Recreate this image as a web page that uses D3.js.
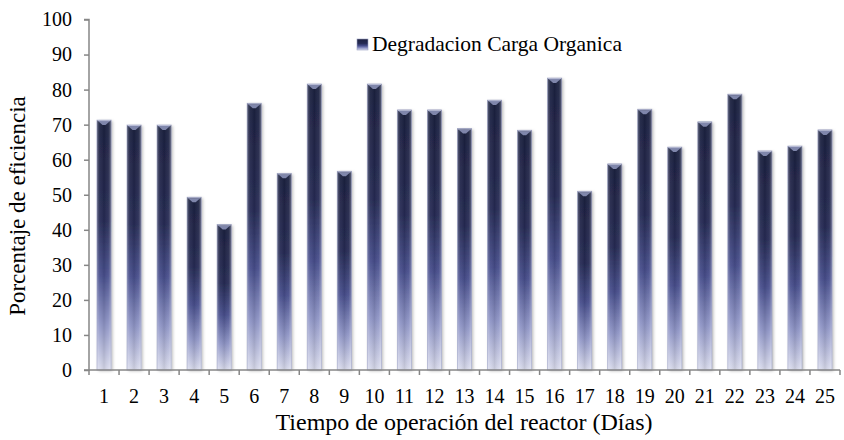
<!DOCTYPE html>
<html>
<head>
<meta charset="utf-8">
<script src="https://cdn.jsdelivr.net/npm/d3@7"></script>
<style>
  html, body { margin: 0; padding: 0; background: #fff; }
  svg { display: block; font-family: "Liberation Serif", "Times New Roman", serif; }
</style>
</head>
<body>
<svg id="chart" width="844" height="440"></svg>
<script>
// Days of reactor operation and organic load degradation efficiency (%)
const days = ["1","2","3","4","5","6","7","8","9","10","11","12","13","14","15","16","17","18","19","20","21","22","23","24","25"];
const efficiency = [71.3, 69.9, 69.9, 49.3, 41.5, 76.1, 56.1, 81.6, 56.7, 81.6, 74.2, 74.2, 68.9, 77.0, 68.4, 83.3, 51.0, 58.8, 74.4, 63.6, 70.8, 78.7, 62.5, 63.9, 68.5];
const yTicks = [0, 10, 20, 30, 40, 50, 60, 70, 80, 90, 100];
const seriesName = "Degradacion Carga Organica";

const svg = d3.select("#chart");
const plotLeft = 89, plotRight = 840, plotTop = 19.5, plotBottom = 370;
const serif = "'Liberation Serif', 'Times New Roman', serif";

const x = d3.scaleBand().domain(days).range([plotLeft, plotRight]).paddingInner(0.53).paddingOuter(0.265);
const y = d3.scaleLinear().domain([0, 100]).range([plotBottom, plotTop]);

const defs = svg.append("defs");

// vertical body shading: deep navy at the top fading to pale lavender at the base
const vg = defs.append("linearGradient").attr("id", "barV")
  .attr("x1", 0).attr("y1", 0).attr("x2", 0).attr("y2", 1);
[[0, "#1d2140"], [0.4, "#262b54"], [0.62, "#474e8c"], [0.82, "#8f95c6"], [1, "#d9dbec"]]
  .forEach(([o, c]) => vg.append("stop").attr("offset", o).attr("stop-color", c));

// horizontal sheen: lighter edges, darker centre
const hg = defs.append("linearGradient").attr("id", "barH")
  .attr("x1", 0).attr("y1", 0).attr("x2", 1).attr("y2", 0);
[[0, "#ffffff", 0.28], [0.2, "#ffffff", 0.05], [0.5, "#000000", 0.08], [0.8, "#ffffff", 0.05], [1, "#ffffff", 0.3]]
  .forEach(([o, c, a]) => hg.append("stop").attr("offset", o).attr("stop-color", c).attr("stop-opacity", a));

const shadow = defs.append("filter").attr("id", "shadow")
  .attr("x", "-50%").attr("y", "-10%").attr("width", "200%").attr("height", "120%");
shadow.append("feDropShadow").attr("dx", 1.5).attr("dy", 1).attr("stdDeviation", 1.6)
  .attr("flood-color", "#000").attr("flood-opacity", 0.28);

// bars
const bars = svg.append("g").selectAll("g.bar")
  .data(days.map((d, i) => ({ day: d, value: efficiency[i] })))
  .join("g").attr("class", "bar");

bars.append("rect")
  .attr("x", d => x(d.day)).attr("y", d => y(d.value))
  .attr("width", x.bandwidth()).attr("height", d => y(0) - y(d.value))
  .attr("fill", "url(#barV)").attr("filter", "url(#shadow)");

bars.append("rect")
  .attr("x", d => x(d.day)).attr("y", d => y(d.value))
  .attr("width", x.bandwidth()).attr("height", d => y(0) - y(d.value))
  .attr("fill", "url(#barH)")
  .attr("stroke", "#9aa0c4").attr("stroke-width", 0.8).attr("stroke-opacity", 0.7);

// bevelled cap at the top of each bar
bars.append("path")
  .attr("d", d => {
    const x0 = x(d.day), w = x.bandwidth(), t = y(d.value);
    return `M${x0 + 1},${t + 1} L${x0 + w - 1},${t + 1} L${x0 + w / 2 + 1.5},${t + 5} L${x0 + w / 2 - 1.5},${t + 5} Z`;
  })
  .attr("fill", "#7f86ab");
bars.append("line")
  .attr("x1", d => x(d.day) + 0.5).attr("x2", d => x(d.day) + x.bandwidth() - 0.5)
  .attr("y1", d => y(d.value) + 0.5).attr("y2", d => y(d.value) + 0.5)
  .attr("stroke", "#b8bcd6").attr("stroke-width", 1);

// y axis
const yAxis = svg.append("g").attr("transform", `translate(${plotLeft},0)`)
  .call(d3.axisLeft(y).tickValues(yTicks).tickSize(5).tickPadding(12));
yAxis.select(".domain").attr("d", `M-5,${plotTop}H0V${plotBottom}H-5`);

// x axis: category labels, with tick marks between categories
const xAxis = svg.append("g").attr("transform", `translate(0,${plotBottom})`)
  .call(d3.axisBottom(x).tickSize(0).tickPadding(18));
xAxis.select(".domain").attr("d", `M${plotLeft},0H${plotRight}`);
const step = x.step();
xAxis.selectAll("line.sep")
  .data(d3.range(days.length + 1))
  .join("line").attr("class", "sep")
  .attr("x1", i => plotLeft + i * step).attr("x2", i => plotLeft + i * step)
  .attr("y1", 0).attr("y2", 5);

[yAxis, xAxis].forEach(g => {
  g.selectAll(".domain, line").attr("stroke", "#868686").attr("stroke-width", 1.5);
  g.selectAll("text").attr("fill", "#000").attr("font-size", 20).attr("font-family", serif);
});
xAxis.selectAll(".tick text").attr("dy", null).attr("y", 33);

// axis titles
svg.append("text")
  .attr("x", 464).attr("y", 430).attr("text-anchor", "middle")
  .attr("font-family", serif).attr("font-size", 24)
  .text("Tiempo de operación del reactor (Días)");
svg.append("text")
  .attr("transform", "translate(25,206) rotate(-90)").attr("text-anchor", "middle")
  .attr("font-family", serif).attr("font-size", 23)
  .text("Porcentaje de eficiencia");

// legend
const legend = svg.append("g").attr("transform", "translate(357,39)");
legend.append("rect").attr("width", 11).attr("height", 11)
  .attr("fill", "url(#barV)").attr("stroke", "#9aa0c4").attr("stroke-width", 0.6);
legend.append("text").attr("x", 15).attr("y", 11.5)
  .attr("font-family", serif).attr("font-size", 21.5).text(seriesName);
</script>
</body>
</html>
